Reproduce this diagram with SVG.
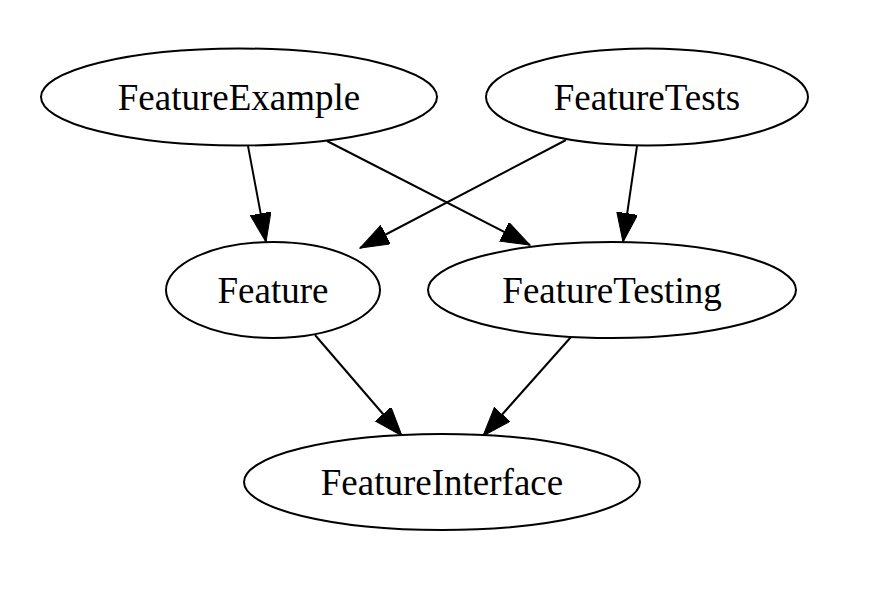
<svg xmlns="http://www.w3.org/2000/svg" width="884" height="594" viewBox="0 0 884 594">
<style>
.node ellipse{fill:#fff;stroke:#000;stroke-width:2}
.node text{font-family:"Liberation Serif","Times New Roman",serif;font-size:37px;text-anchor:middle;fill:#000}
.edge{stroke:#000;stroke-width:2;fill:none;marker-end:url(#arr)}
</style>
<defs>
<marker id="arr" markerUnits="userSpaceOnUse" markerWidth="30" markerHeight="22" refX="29" refY="10.5" orient="auto" viewBox="0 0 30 22">
<path d="M0,0 L29,10.5 L0,21 z" fill="#000" stroke="#000" stroke-width="1"/>
</marker>
</defs>
<rect width="884" height="594" fill="#fff"/>
<g id="connectors">
<line class="edge" x1="248" y1="146" x2="266" y2="242"/>
<line class="edge" x1="327" y1="141" x2="530" y2="245"/>
<line class="edge" x1="566" y1="140" x2="360" y2="248"/>
<line class="edge" x1="637" y1="146" x2="623" y2="242"/>
<line class="edge" x1="315" y1="335" x2="402" y2="436"/>
<line class="edge" x1="571" y1="337" x2="483" y2="436"/>
</g>
<g id="FeatureExample" class="node"><ellipse cx="239" cy="97" rx="198" ry="48.5"/><text x="239" y="110">FeatureExample</text></g>
<g id="FeatureTests" class="node"><ellipse cx="647" cy="97" rx="161" ry="48.5"/><text x="647" y="110">FeatureTests</text></g>
<g id="Feature" class="node"><ellipse cx="273" cy="290" rx="107" ry="48"/><text x="273" y="303">Feature</text></g>
<g id="FeatureTesting" class="node"><ellipse cx="612" cy="290" rx="184" ry="48"/><text x="612" y="303">FeatureTesting</text></g>
<g id="FeatureInterface" class="node"><ellipse cx="442" cy="482" rx="198" ry="48"/><text x="442" y="495">FeatureInterface</text></g>
</svg>
